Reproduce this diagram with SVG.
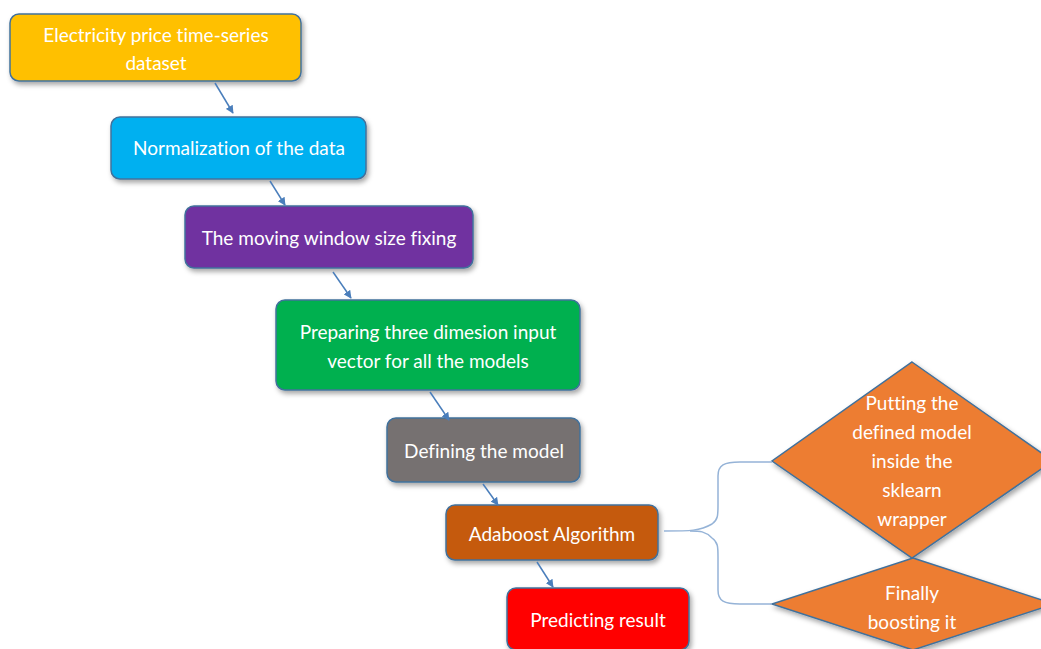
<svg xmlns="http://www.w3.org/2000/svg" width="1041" height="649" viewBox="0 0 1041 649">
<defs>
<filter id="sh" x="-10%" y="-20%" width="125%" height="150%">
<feDropShadow dx="2" dy="3" stdDeviation="2.5" flood-color="#000" flood-opacity="0.35"/>
</filter>
<marker id="ah" viewBox="0 0 10 10" refX="9" refY="5" markerWidth="8" markerHeight="8" orient="auto" markerUnits="userSpaceOnUse">
<path d="M0,0 L10,5 L0,10 z" fill="#4A7EBB"/>
</marker>
</defs>
<style>
.box{stroke:#41719C;stroke-width:1.5;filter:url(#sh)}
.t{font-family:Lato,"Open Sans","Liberation Sans",sans-serif;font-size:19px;fill:#fff;text-anchor:middle;font-variant-ligatures:none}
.ar{stroke:#4A7EBB;stroke-width:1.5;fill:none;marker-end:url(#ah)}
.br{stroke:#95B3D7;stroke-width:1.5;fill:none}
</style>
<rect width="1041" height="649" fill="#fff"/>
<g id="n1"><rect class="box" x="10" y="14" width="291" height="67" rx="9" fill="#FFC000"/>
<text class="t" x="156" y="42">Electricity price time-series</text><text class="t" x="156" y="70">dataset</text></g>
<g id="n2"><rect class="box" x="111" y="117" width="255" height="62" rx="9" fill="#00B0F0"/>
<text class="t" x="239" y="155">Normalization of the data</text></g>
<g id="n3"><rect class="box" x="185" y="206" width="288" height="62" rx="9" fill="#7030A0"/>
<text class="t" x="329" y="245">The moving window size fixing</text></g>
<g id="n4"><rect class="box" x="276" y="300" width="304" height="90" rx="9" fill="#00B050"/>
<text class="t" x="428" y="339">Preparing three dimesion input</text><text class="t" x="428" y="368">vector for all the models</text></g>
<g id="n5"><rect class="box" x="387" y="418" width="193" height="64" rx="9" fill="#767171"/>
<text class="t" x="484" y="458">Defining the model</text></g>
<g id="n6"><rect class="box" x="446" y="505" width="212" height="55" rx="9" fill="#C55A11"/>
<text class="t" x="552" y="541">Adaboost Algorithm</text></g>
<g id="n7"><rect class="box" x="507" y="588" width="182" height="62" rx="9" fill="#FF0000"/>
<text class="t" x="598" y="627">Predicting result</text></g>
<g id="n8"><polygon class="box" points="912,362 1053,461 912,558 772,461" fill="#ED7D31"/>
<text class="t" x="912" y="410">Putting the</text><text class="t" x="912" y="439">defined model</text><text class="t" x="912" y="468">inside the</text><text class="t" x="912" y="497">sklearn</text><text class="t" x="912" y="526">wrapper</text></g>
<g id="n9"><polygon class="box" points="913,558 1054,604 913,650 772,604" fill="#ED7D31"/>
<text class="t" x="912" y="600">Finally</text><text class="t" x="912" y="629">boosting it</text></g>
<g id="edges">
<line class="ar" x1="215" y1="83" x2="233" y2="113"/>
<line class="ar" x1="270" y1="181" x2="285" y2="205"/>
<line class="ar" x1="333" y1="272" x2="351" y2="298"/>
<line class="ar" x1="430" y1="392" x2="449" y2="420"/>
<line class="ar" x1="483" y1="484" x2="498" y2="505"/>
<line class="ar" x1="537" y1="562" x2="553" y2="587"/>
<path class="br" d="M664,531 C690,531 700,531 712,524 C718,520 718,515 718,505 L718,476 C718,465 724,462 740,462 L772,462"/>
<path class="br" d="M690,531 C700,531 705,531 712,538 C718,542 718,547 718,557 L718,590 C718,601 724,604 740,604 L772,604"/>
</g>
</svg>
